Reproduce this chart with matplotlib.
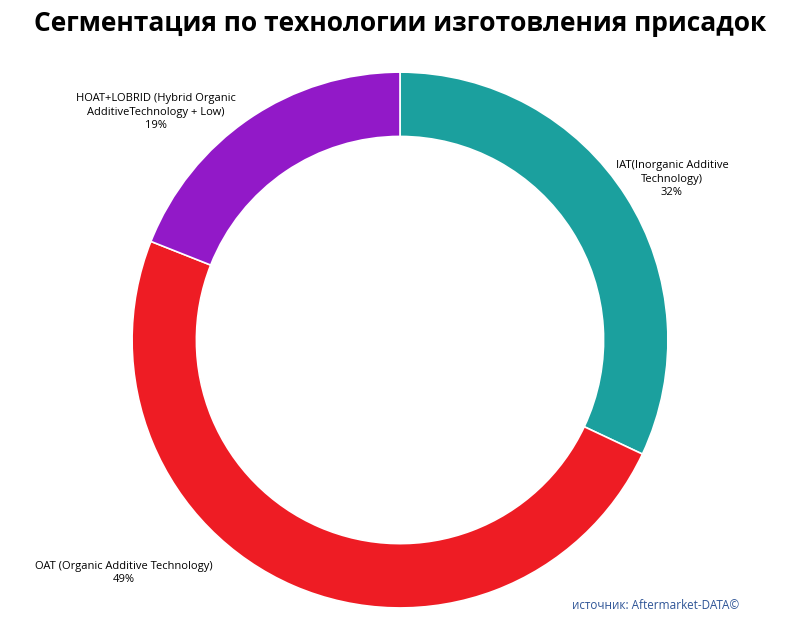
import matplotlib.pyplot as plt

categories = ["IAT(Inorganic Additive\nTechnology)",
              "OAT (Organic Additive Technology)",
              "HOAT+LOBRID (Hybrid Organic\nAdditiveTechnology + Low)"]
shares = [32, 49, 19]
colors = ["#1BA09E", "#EE1C24", "#9219C8"]
# label anchor points (data units, radius = 1)
label_pos = [(1.015, 0.6), (-1.03, -0.87), (-0.91, 0.85)]

plt.rcParams["font.family"] = "Open Sans"
fig = plt.figure(figsize=(8, 6.44), dpi=100)
ax = fig.add_axes([0.165, 0.056, 0.67, 0.832])

ax.pie(shares, colors=colors, startangle=90, counterclock=False, radius=1,
       wedgeprops=dict(width=0.24, edgecolor="white", linewidth=1.2))
ax.set_xlim(-1, 1)
ax.set_ylim(-1, 1)
ax.set_aspect("equal")
ax.axis("off")

for name, val, (x, y) in zip(categories, shares, label_pos):
    ax.text(x, y, f"{name}\n{val}%", ha="center", va="center", fontsize=8,
            linespacing=1.3, clip_on=False)

fig.text(0.5, 0.963, "Сегментация по технологии изготовления присадок",
         ha="center", va="center", fontsize=19, fontweight="bold")
fig.text(0.82, 0.06, "источник: Aftermarket-DATA©", ha="center", va="center",
         fontsize=8.5, color="#2F5597")

fig.savefig("out.png", dpi=100)
